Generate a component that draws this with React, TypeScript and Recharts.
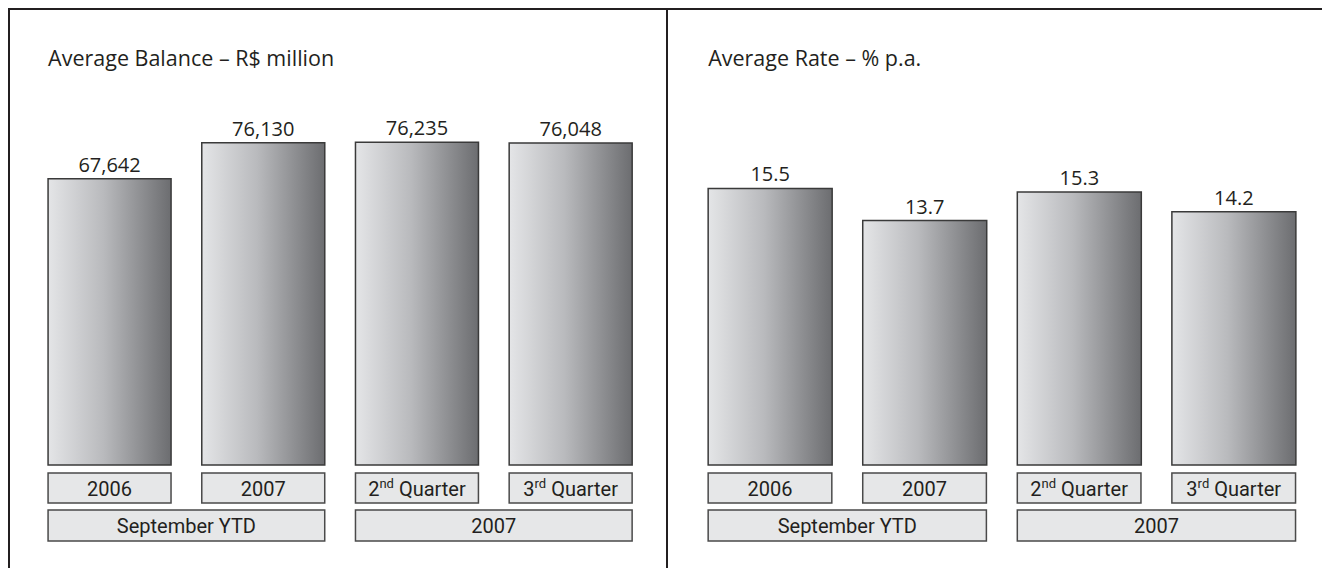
import React from "react";
import { BarChart, Bar, XAxis, YAxis, LabelList } from "recharts";

// categories along the x axis and the period each one belongs to
const categories = ["2006", "2007", "2nd Quarter", "3rd Quarter"];
const periods = ["September YTD", "September YTD", "2007", "2007"];

// R$ million
const averageBalance = [67642, 76130, 76235, 76048];
// % p.a.
const averageRate = [15.5, 13.7, 15.3, 14.2];

const INK = "#231f20";
const FONT = "'Open Sans', 'Noto Sans', sans-serif";
const LABEL_FONT = "Roboto, 'Open Sans', sans-serif";

const CHART_HEIGHT = 552;
const PLOT_TOP = 91;
const PLOT_HEIGHT = 364;
const AXIS_HEIGHT = 90;

type PanelProps = {
  title: string;
  values: number[];
  domain: [number, number];
  format: (v: number) => string;
  width: number;
  marginLeft: number;
  marginRight: number;
  gradientId: string;
};

// "2nd Quarter" -> "2" + superscript "nd" + " Quarter"
const renderCategory = (label: string) => {
  const m = label.match(/^(\d)(st|nd|rd|th) (.*)$/);
  if (!m) return label;
  return (
    <>
      {m[1]}
      <tspan fontSize={13} dy={-8}>
        {m[2]}
      </tspan>
      <tspan dy={8}> {m[3]}</tspan>
    </>
  );
};

const makeTick = (step: number, barWidth: number) => (props: any) => {
  const { x, y, payload, index } = props;
  const left = x - barWidth / 2;
  return (
    <g>
      <rect x={left} y={y + 8} width={barWidth} height={30} fill="#e6e7e8" stroke="#4a4a4a" strokeWidth={1.5} />
      <text x={x} y={y + 31} textAnchor="middle" fill={INK} fontSize={20} fontFamily={LABEL_FONT}>
        {renderCategory(payload.value)}
      </text>
      {index % 2 === 0 && (
        <g>
          <rect
            x={left}
            y={y + 45}
            width={step + barWidth}
            height={31}
            fill="#e6e7e8"
            stroke="#4a4a4a"
            strokeWidth={1.5}
          />
          <text
            x={x + step / 2}
            y={y + 68}
            textAnchor="middle"
            fill={INK}
            fontSize={20}
            fontFamily={LABEL_FONT}
          >
            {periods[index]}
          </text>
        </g>
      )}
    </g>
  );
};

const Panel = ({ title, values, domain, format, width, marginLeft, marginRight, gradientId }: PanelProps) => {
  const data = categories.map((category, i) => ({ category, value: values[i] }));
  const step = (width - marginLeft - marginRight) / categories.length;
  const barWidth = step * 0.8;
  return (
    <div style={{ position: "relative", width, height: CHART_HEIGHT }}>
      <svg width={width} height={80} style={{ position: "absolute", left: 0, top: 0 }}>
        <text x={marginLeft + step * 0.1} y={56} fill={INK} fontSize={21.5} fontFamily={FONT}>
          {title}
        </text>
      </svg>
      <BarChart
        width={width}
        height={CHART_HEIGHT}
        data={data}
        barCategoryGap="10%"
        margin={{
          top: PLOT_TOP,
          right: marginRight,
          left: marginLeft,
          bottom: CHART_HEIGHT - PLOT_TOP - PLOT_HEIGHT - AXIS_HEIGHT,
        }}
      >
        <defs>
          <linearGradient id={gradientId} x1="0" y1="0" x2="1" y2="0">
            <stop offset="0%" stopColor="#e4e5e7" />
            <stop offset="45%" stopColor="#b9babd" />
            <stop offset="100%" stopColor="#6c6d70" />
          </linearGradient>
        </defs>
        <XAxis
          dataKey="category"
          axisLine={false}
          tickLine={false}
          tickSize={0}
          tickMargin={0}
          height={AXIS_HEIGHT}
          interval={0}
          tick={makeTick(step, barWidth)}
        />
        <YAxis hide domain={domain} />
        <Bar dataKey="value" fill={`url(#${gradientId})`} stroke="#3a3a3a" strokeWidth={1.5} isAnimationActive={false}>
          <LabelList
            dataKey="value"
            position="top"
            offset={7}
            fill={INK}
            fontSize={20}
            fontFamily={FONT}
            formatter={(v: any) => format(Number(v))}
          />
        </Bar>
      </BarChart>
    </div>
  );
};

export default function App() {
  return (
    <>
      <style>{"body{overflow:hidden}"}</style>
      <div
        style={{
          display: "flex",
          width: 1319,
          height: 562,
          boxSizing: "border-box",
          borderTop: `2px solid ${INK}`,
          borderLeft: `2px solid ${INK}`,
          borderRight: `2px solid ${INK}`,
          background: "#fff",
        }}
      >
        <Panel
          title="Average Balance – R$ million"
          values={averageBalance}
          domain={[0, 86000]}
          format={(v) => v.toLocaleString("en-US")}
          width={656}
          marginLeft={22.7}
          marginRight={18.5}
          gradientId="balanceFill"
        />
        <div style={{ width: 2, background: INK, height: 562 }} />
        <Panel
          title="Average Rate – % p.a."
          values={averageRate}
          domain={[0, 20.4]}
          format={(v) => v.toFixed(1)}
          width={657}
          marginLeft={24.7}
          marginRight={14}
          gradientId="rateFill"
        />
      </div>
    </>
  );
}
